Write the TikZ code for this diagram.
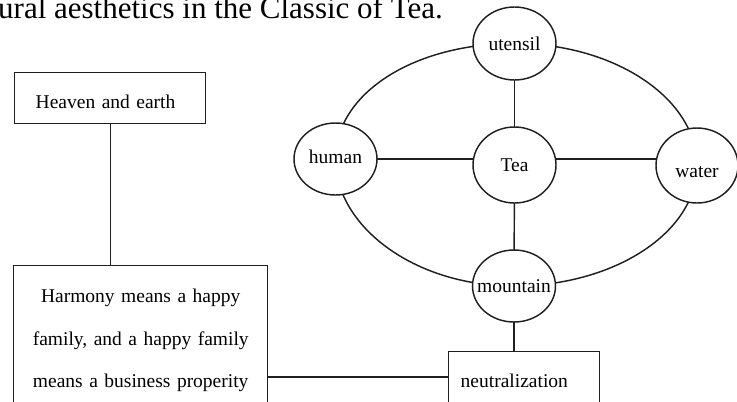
\documentclass[tikz,border=0pt]{standalone}
\usepackage{fontspec}
\setmainfont{Liberation Serif}
\usetikzlibrary{shapes.geometric,backgrounds}
\definecolor{lc}{gray}{0.12}
\begin{document}
\begin{tikzpicture}[x=1pt,y=-1pt,
  ln/.style={draw=lc, line width=1.45pt},
  nodefont/.style={font=\fontsize{19.5}{23.4}\selectfont},
  oval/.style={ellipse, ln, fill=white, inner sep=0pt, nodefont, text depth=0pt, minimum width=83pt, minimum height=73pt},
  rbox/.style={rectangle, ln, fill=white, nodefont, align=left, anchor=north west}
]
\useasboundingbox (0,0) rectangle (737,402);
\clip (0,0) rectangle (737,402);

\node[anchor=base east, inner sep=0pt, font=\fontsize{31}{37}\selectfont] (title) at (443,18) {ural aesthetics in the Classic of Tea.};

\node[rbox, minimum height=51pt, inner xsep=21pt, inner ysep=0pt, text width=149pt, text height=21pt, text depth=0pt] (heaven) at (14,72) {Heaven and earth};
\node[rbox, text width=254pt, inner xsep=0pt, inner ysep=23.7pt, align=center, font=\fontsize{19.5}{42.5}\selectfont] (harmony) at (13,265) {Harmony means a happy\\ family, and a happy family\\ means a business properity};
\node[rbox, text width=127pt, inner xsep=12pt, inner ysep=22.7pt, text height=13.3pt, text depth=0pt] (neut) at (448,351) {neutralization};

\node[oval, text height=13pt] (utensil) at (514.5,43.5) {\makebox[0pt]{utensil}};
\node[oval, text height=13.4pt, minimum height=76pt] (tea) at (514.5,165) {\makebox[0pt]{Tea}};
\node[oval, text height=8.6pt, minimum height=72pt] (human) at (335.5,159) {\makebox[0pt]{human}};
\node[oval, text height=23pt, minimum width=82pt, minimum height=75pt] (water) at (697,165.5) {\makebox[0pt]{water}};
\node[oval, text height=13.4pt, minimum height=72pt] (mountain) at (514,286) {\makebox[0pt]{mountain}};

\begin{pgfonlayer}{background}
\draw[ln] (human.center) .. controls +(0,-66) and +(-100,0) .. (utensil.center);
\draw[ln] (utensil.center) .. controls +(100,0) and +(0,-67) .. (water.center);
\draw[ln] (water.center) .. controls +(0,67) and +(100,0) .. (mountain.center);
\draw[ln] (mountain.center) .. controls +(-100,0) and +(0,67) .. (human.center);
\draw[ln] (human.center) -- (human.center -| tea.center);
\draw[ln] (human.center -| tea.center) -- (human.center -| water.center);
\draw[ln] (utensil.center) -- (tea.center);
\draw[ln] (tea.center) -- (mountain.center);
\draw[ln] (mountain.center) -- (mountain.center |- neut.center);
\draw[ln] (heaven.center) -- (heaven.center |- harmony.center);
\draw[ln] ([yshift=4pt]neut.center) -- ([yshift=4pt]neut.center -| harmony.center);
\end{pgfonlayer}
\end{tikzpicture}
\end{document}
